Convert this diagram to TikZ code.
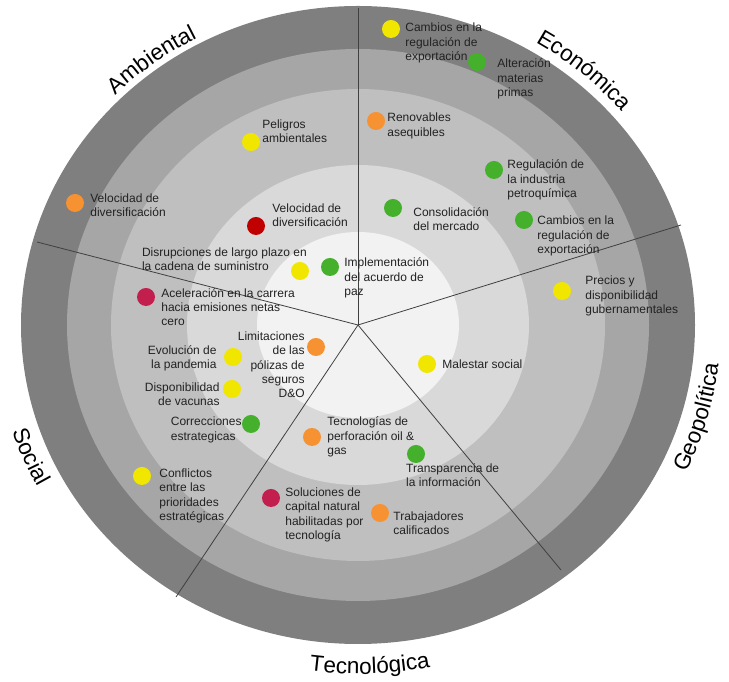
\documentclass[tikz,border=0pt]{standalone}
\usepackage{fontspec}
\setmainfont{Liberation Sans}
\usetikzlibrary{positioning,decorations.text}

\definecolor{ringA}{HTML}{7F7F7F}
\definecolor{ringB}{HTML}{A6A6A6}
\definecolor{ringC}{HTML}{BFBFBF}
\definecolor{ringD}{HTML}{D9D9D9}
\definecolor{ringE}{HTML}{F2F2F2}
\definecolor{linegray}{HTML}{404040}
\definecolor{txtgray}{HTML}{222222}
\definecolor{dotyellow}{HTML}{F0E600}
\definecolor{dotgreen}{HTML}{44B02C}
\definecolor{dotorange}{HTML}{F69232}
\definecolor{dotred}{HTML}{C00000}
\definecolor{dotcrimson}{HTML}{C21E4E}

\newcommand{\biglbl}{\fontsize{22.5}{22.5}\selectfont}

\begin{document}
\begin{tikzpicture}[x=1pt, y=1pt,
  dot/.style={circle, inner sep=0pt, minimum size=18pt},
  lbl/.style={inner sep=0pt, align=left, text=txtgray, font=\fontsize{12}{14.3}\selectfont},
  lblr/.style={lbl, align=right},
  spoke/.style={draw=linegray, line width=0.8pt},
  curved/.style={decorate, decoration={text along path, text align=center,
    text color=black, text={|\biglbl|#1}}}]
\useasboundingbox (0,0) rectangle (729,682);
\coordinate (c) at (358,357);

% rings
\fill[ringA] (c) ellipse [x radius=337, y radius=319];
\fill[ringB] (c) ellipse [x radius=291, y radius=276];
\fill[ringC] (c) ellipse [x radius=247, y radius=236];
\fill[ringD] (c) ellipse [x radius=171, y radius=160];
\fill[ringE] (c) ellipse [x radius=101, y radius=93];

% spokes
\coordinate (s1) at (358,674);
\coordinate (s2) at (37,440);
\coordinate (s3) at (681,457);
\coordinate (s4) at (561,112);
\coordinate (s5) at (176,85);
\foreach \s in {s1,s2,s3,s4,s5}
  \draw[spoke] (c) -- (\s);

% sector names
\path[curved=Ambiental] (c) ++(156.8:343 and 325)
  arc[start angle=156.8, end angle=96.8, x radius=343, y radius=325];
\path[curved=Económica] (c) ++(79.5:347 and 329)
  arc[start angle=79.5, end angle=19.5, x radius=347, y radius=329];
\path[curved=Geopolítica] (c) ++(-45.8:363 and 345)
  arc[start angle=-45.8, end angle=14.2, x radius=363, y radius=345];
\path[curved=Tecnológica] (c) ++(-118.1:367 and 349)
  arc[start angle=-118.1, end angle=-58.1, x radius=367, y radius=349];
\path[curved=Social] (c) ++(172.7:363 and 345)
  arc[start angle=172.7, end angle=232.7, x radius=363, y radius=345];

% risks
\node[dot, fill=dotyellow] (d1) at (391,653) {};
\node[lbl, right=5pt of d1, yshift=-14pt] (l1) {Cambios en la\\regulación de\\exportación};
\node[dot, fill=dotgreen] (d2) at (477,620) {};
\node[lbl, right=11pt of d2, yshift=-17pt] (l2) {Alteración\\materias\\primas};
\node[dot, fill=dotorange] (d3) at (376,561) {};
\node[lbl, right=2pt of d3, yshift=-5pt] (l3) {Renovables\\asequibles};
\node[dot, fill=dotyellow] (d4) at (251,540) {};
\node[lbl, right=2pt of d4, yshift=10.5pt] (l4) {Peligros\\ambientales};
\node[dot, fill=dotgreen] (d5) at (494,512) {};
\node[lbl, right=4pt of d5, yshift=-10pt] (l5) {Regulación de\\la industria\\petroquímica};
\node[dot, fill=dotorange] (d6) at (75,479) {};
\node[lbl, right=6pt of d6, yshift=-2pt] (l6) {Velocidad de\\diversificación};
\node[dot, fill=dotgreen] (d7) at (393,474) {};
\node[lbl, right=11pt of d7, yshift=-11pt] (l7) {Consolidación\\del mercado};
\node[dot, fill=dotgreen] (d8) at (524,462) {};
\node[lbl, right=4pt of d8, yshift=-16pt] (l8) {Cambios en la\\regulación de\\exportación};
\node[dot, fill=dotred] (d9) at (256,456) {};
\node[lbl, right=7pt of d9, yshift=11pt] (l9) {Velocidad de\\diversificación};
\node[dot, fill=dotyellow] (d10) at (300,411) {};
\node[lbl, anchor=east] (l10) at ([xshift=7pt, yshift=12pt]d10.center) {Disrupciones de largo plazo en\\la cadena de suministro};
\node[dot, fill=dotgreen] (d11) at (330,415) {};
\node[lbl, right=5pt of d11, yshift=-11pt] (l11) {Implementación\\del acuerdo de\\paz};
\node[dot, fill=dotyellow] (d12) at (562,391) {};
\node[lbl, right=14pt of d12, yshift=-5pt] (l12) {Precios y\\disponibilidad\\gubernamentales};
\node[dot, fill=dotcrimson] (d13) at (146,385) {};
\node[lbl, right=6pt of d13, yshift=-10pt] (l13) {Aceleración en la carrera\\hacia emisiones netas\\cero};
\node[dot, fill=dotorange] (d14) at (316,335) {};
\node[lblr, left=2pt of d14, yshift=-18pt] (l14) {Limitaciones\\de las\\pólizas de\\seguros\\D\&O};
\node[dot, fill=dotyellow] (d15) at (233,325) {};
\node[lblr, left=7pt of d15, yshift=-1pt] (l15) {Evolución de\\la pandemia};
\node[dot, fill=dotyellow] (d16) at (427,318) {};
\node[lbl, right=6pt of d16] (l16) {Malestar social};
\node[dot, fill=dotyellow] (d17) at (232,293) {};
\node[lblr, left=3pt of d17, yshift=-5pt] (l17) {Disponibilidad\\de vacunas};
\node[dot, fill=dotgreen] (d18) at (251,258) {};
\node[lbl, left=0pt of d18, yshift=-6pt] (l18) {Correcciones\\estrategicas};
\node[dot, fill=dotorange] (d19) at (312,245) {};
\node[lbl, right=6pt of d19] (l19) {Tecnologías de\\perforación oil \&\\gas};
\node[dot, fill=dotgreen] (d20) at (416,228) {};
\node[lbl, anchor=north west] (l20) at ([xshift=-10pt]d20.south) {Transparencia de\\la información};
\node[dot, fill=dotyellow] (d21) at (142,206) {};
\node[lbl, right=8pt of d21, yshift=-20pt] (l21) {Conflictos\\entre las\\prioridades\\estratégicas};
\node[dot, fill=dotcrimson] (d22) at (271,184) {};
\node[lbl, right=5pt of d22, yshift=-17pt] (l22) {Soluciones de\\capital natural\\habilitadas por\\tecnología};
\node[dot, fill=dotorange] (d23) at (380,169) {};
\node[lbl, right=4pt of d23, yshift=-10pt] (l23) {Trabajadores\\calificados};
\end{tikzpicture}
\end{document}
